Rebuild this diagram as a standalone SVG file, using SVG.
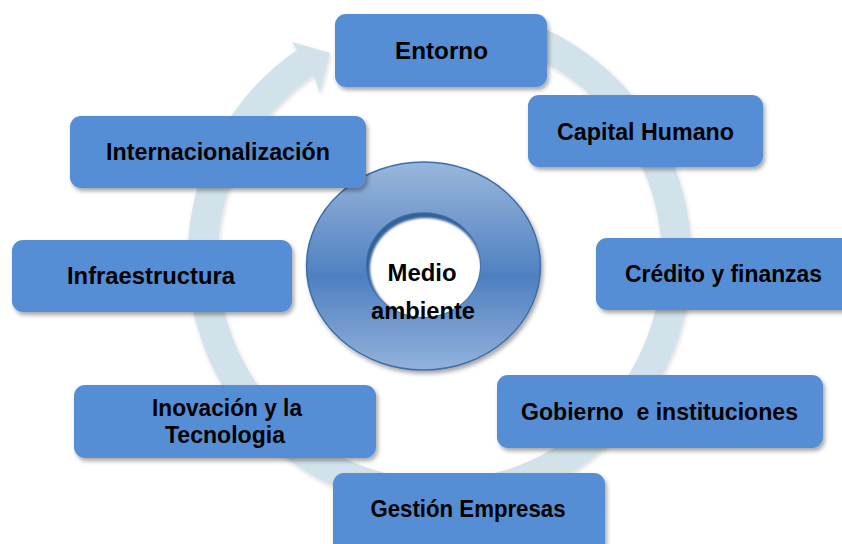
<svg xmlns="http://www.w3.org/2000/svg" width="842" height="544" viewBox="0 0 842 544">
<defs>
<filter id="sh" x="-10%" y="-10%" width="130%" height="140%">
<feDropShadow dx="2" dy="3" stdDeviation="2" flood-color="#000" flood-opacity="0.35"/>
</filter>
<filter id="rsh" x="-10%" y="-10%" width="130%" height="130%">
<feDropShadow dx="1" dy="2" stdDeviation="2" flood-color="#000" flood-opacity="0.15"/>
</filter>
<filter id="soft" x="-10%" y="-10%" width="120%" height="120%">
<feGaussianBlur stdDeviation="1.2"/>
</filter>
<clipPath id="holeclip">
<ellipse cx="423.4" cy="265" rx="56.7" ry="52"/>
</clipPath>
<linearGradient id="dg" x1="0" y1="0" x2="0" y2="1">
<stop offset="0" stop-color="#9AB7DC"/>
<stop offset="0.55" stop-color="#4E80C0"/>
<stop offset="1" stop-color="#93B2DB"/>
</linearGradient>
<style>
.box{fill:#558ED5;filter:url(#sh);}
.t{font-family:"Liberation Sans",Arial,sans-serif;font-weight:bold;font-size:23.5px;fill:#000;text-anchor:middle;}
</style>
</defs>
<rect width="842" height="544" fill="#ffffff"/>
<g id="connectors">
<path d="M 517.9 18.3 A 252 252 0 1 1 297 50 L 292 42 L 330 53 L 320 93 L 314 75 A 222 222 0 1 0 508.6 46.9 Z" fill="#D1E2EA" filter="url(#rsh)"/>
</g>
<g id="center">
<path d="M 306.5 266 A 117 104 0 1 0 540.5 266 A 117 104 0 1 0 306.5 266 Z M 366.7 265 A 56.7 52 0 1 1 480.1 265 A 56.7 52 0 1 1 366.7 265 Z" fill="url(#dg)" fill-rule="evenodd" stroke="#3E6DAA" stroke-width="1.5" filter="url(#sh)"/>
<g clip-path="url(#holeclip)">
<ellipse cx="423.4" cy="265" rx="56.7" ry="52" fill="#34619A"/>
<ellipse cx="425.5" cy="268.5" rx="55.5" ry="50.5" fill="#ffffff" filter="url(#soft)"/>
</g>
<text class="t" x="422" y="281" textLength="69" lengthAdjust="spacingAndGlyphs">Medio</text>
<text class="t" x="423" y="319" textLength="104" lengthAdjust="spacingAndGlyphs">ambiente</text>
</g>
<g id="entorno">
<rect class="box" x="335" y="14" width="212" height="73" rx="11"/>
<text class="t" x="441.5" y="59" textLength="93" lengthAdjust="spacingAndGlyphs">Entorno</text>
</g>
<g id="capital">
<rect class="box" x="528" y="95" width="235" height="72" rx="11"/>
<text class="t" x="645.5" y="140" textLength="177" lengthAdjust="spacingAndGlyphs">Capital Humano</text>
</g>
<g id="credito">
<rect class="box" x="596" y="238" width="262" height="72" rx="11"/>
<text class="t" x="723.5" y="282" textLength="197" lengthAdjust="spacingAndGlyphs">Crédito y finanzas</text>
</g>
<g id="gobierno">
<rect class="box" x="497" y="375" width="326" height="73" rx="11"/>
<text class="t" x="659.5" y="420" textLength="277" lengthAdjust="spacingAndGlyphs" xml:space="preserve">Gobierno  e instituciones</text>
</g>
<g id="gestion">
<rect class="box" x="333" y="473" width="272" height="85" rx="11"/>
<text class="t" x="468" y="517" textLength="195" lengthAdjust="spacingAndGlyphs">Gestión Empresas</text>
</g>
<g id="inovacion">
<rect class="box" x="74" y="385" width="302" height="73" rx="11"/>
<text class="t" x="227" y="416" textLength="150" lengthAdjust="spacingAndGlyphs">Inovación y la</text>
<text class="t" x="225" y="443" textLength="120" lengthAdjust="spacingAndGlyphs">Tecnologia</text>
</g>
<g id="infraestructura">
<rect class="box" x="12" y="240" width="280" height="72" rx="11"/>
<text class="t" x="151" y="284" textLength="168" lengthAdjust="spacingAndGlyphs">Infraestructura</text>
</g>
<g id="internacionalizacion">
<rect class="box" x="70" y="116" width="296" height="72" rx="11"/>
<text class="t" x="218" y="160" textLength="224" lengthAdjust="spacingAndGlyphs">Internacionalización</text>
</g>
</svg>
